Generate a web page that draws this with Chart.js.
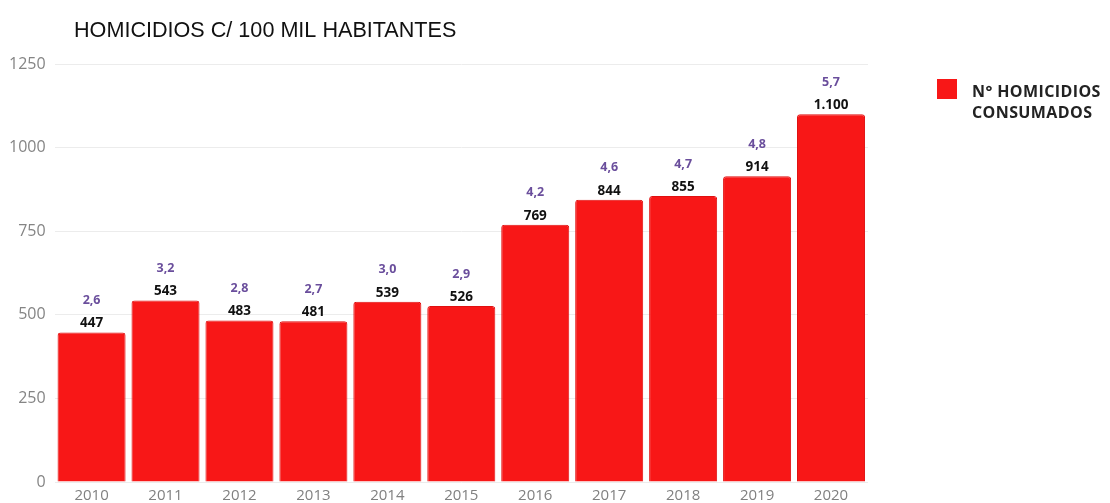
<!DOCTYPE html>
<html>
<head>
<meta charset="utf-8">
<script src="https://cdn.jsdelivr.net/npm/chart.js@4/dist/chart.umd.min.js"></script>
<style>
  html, body { margin: 0; padding: 0; background: #fff; }
  #wrap { width: 1110px; height: 503px; position: relative; }
</style>
</head>
<body>
<div id="wrap"><canvas id="chart"></canvas></div>
<script>
const anos = ["2010", "2011", "2012", "2013", "2014", "2015", "2016", "2017", "2018", "2019", "2020"];
const homicidios = [447, 543, 483, 481, 539, 526, 769, 844, 855, 914, 1100];
const taxa = ["2,6", "3,2", "2,8", "2,7", "3,0", "2,9", "4,2", "4,6", "4,7", "4,8", "5,7"];
const ticksY = [0, 250, 500, 750, 1000, 1250];

const vermelho = "#f81717";

// numeros acima das barras + titulo + legenda
const extras = {
    id: "extras",
    afterDatasetsDraw(chart) {
        const ctx = chart.ctx;
        const meta = chart.getDatasetMeta(0);
        ctx.save();
        ctx.textAlign = "center";
        ctx.textBaseline = "middle";
        meta.data.forEach((bar, i) => {
            const v = homicidios[i];
            ctx.fillStyle = "#111";
            ctx.font = "bold 13.5px 'Open Sans'";
            ctx.fillText(v >= 1000 ? v.toLocaleString("pt-BR") : String(v), bar.x, bar.y - 9);
            ctx.fillStyle = "#6a4e9c";
            ctx.font = "bold 12.5px 'Open Sans'";
            ctx.fillText(taxa[i], bar.x, bar.y - 32);
        });

        ctx.textAlign = "left";
        ctx.fillStyle = "#111";
        ctx.font = "21.6px 'Liberation Sans'";
        ctx.fillText("HOMICIDIOS C/ 100 MIL HABITANTES", 74, 31);

        ctx.fillStyle = vermelho;
        ctx.fillRect(937, 79, 20, 20);
        ctx.fillStyle = "#222";
        ctx.font = "bold 16px 'Open Sans'";
        ctx.letterSpacing = "0.4px";
        ctx.fillText("N° HOMICIDIOS", 972, 92);
        ctx.fillText("CONSUMADOS", 972, 113);
        ctx.restore();
    }
};

new Chart(document.getElementById("chart"), {
    type: "bar",
    data: {
        labels: anos,
        datasets: [{
            label: "N° HOMICIDIOS CONSUMADOS",
            data: homicidios,
            backgroundColor: vermelho,
            borderColor: "#e01010",
            borderWidth: 1,
            borderRadius: 3,
            borderSkipped: "bottom",
            barPercentage: 0.92,
            categoryPercentage: 1.0
        }]
    },
    options: {
        responsive: true,
        maintainAspectRatio: false,
        animation: false,
        layout: {padding: {top: 64, right: 242, bottom: -6, left: 0}},
        plugins: {
            legend: {display: false},
            title: {display: false},
            tooltip: {enabled: false}
        },
        scales: {
            x: {
                grid: {display: false, drawTicks: false},
                border: {display: false},
                ticks: {color: "#808080", font: {family: "'Open Sans'", size: 15, lineHeight: 1}, padding: 6}
            },
            y: {
                min: 0,
                max: 1250,
                afterBuildTicks: axis => { axis.ticks = ticksY.map(v => ({value: v})); },
                grid: {color: "#ececec", drawTicks: false},
                border: {display: false},
                ticks: {
                    color: "#858585",
                    font: {family: "'Open Sans'", size: 16},
                    padding: 9,
                    callback: v => String(v)
                }
            }
        }
    },
    plugins: [extras]
});
</script>
</body>
</html>
